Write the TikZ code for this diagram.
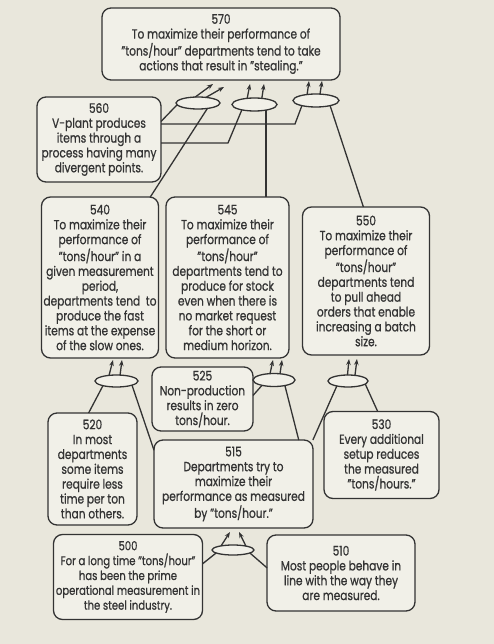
\documentclass[tikz,border=0pt]{standalone}
\usepackage{fontspec}
\setmainfont{Poppins}[FakeStretch=0.8,FakeBold=0.8]
\usetikzlibrary{arrows.meta,shapes.geometric}
\definecolor{bgc}{HTML}{E9E7DC}
\definecolor{boxc}{HTML}{F1F0E8}
\definecolor{inkc}{HTML}{333333}
\begin{document}
\begin{tikzpicture}[x=1bp,y=1bp,
  box/.style={draw=inkc,line width=1.3bp,rounded corners=9bp,fill=boxc,align=center,
    inner sep=0pt,outer sep=0pt,text=inkc,font=\fontsize{13.3}{14.9}\selectfont},
  ell/.style={draw=inkc,line width=1.3bp,ellipse,fill=boxc,inner sep=0pt,outer sep=0pt},
  con/.style={draw=inkc,line width=1.3bp},
  arr/.style={draw=inkc,line width=1.3bp,-{Stealth[length=6bp,width=4.5bp]}}]
\fill[bgc] (0,0) rectangle (494,-644);
\useasboundingbox (0,0) rectangle (494,-644);

% boxes
\node[box,minimum width=238bp,minimum height=72bp] (b570) at (221,-44)
  {570\\To maximize their performance of\\"tons/hour" departments tend to take\\actions that result in "stealing."};
\node[box,minimum width=124bp,minimum height=85bp] (b560) at (99,-139.5)
  {560\\V-plant produces\\items through a\\process having many\\divergent points.};
\node[box,minimum width=117bp,minimum height=161bp] (b540) at (100,-277.5)
  {540\\To maximize their\\performance of\\"tons/hour" in a\\given measurement\\period,\\departments tend\ \ to\\produce the fast\\items at the expense\\of the slow ones.};
\node[box,minimum width=123bp,minimum height=161bp] (b545) at (227.5,-277.5)
  {545\\To maximize their\\performance of\\"tons/hour"\\departments tend to\\produce for stock\\even when there is\\no market request\\for the short or\\medium horizon.};
\node[box,minimum width=127bp,minimum height=148bp] (b550) at (366,-281)
  {550\\To maximize their\\performance of\\"tons/hour"\\departments tend\\to pull ahead\\orders that enable\\increasing a batch\\size.};
\node[box,minimum width=101bp,minimum height=64bp] (b525) at (202.5,-399)
  {525\\Non-production\\results in zero\\tons/hour.};
\node[box,minimum width=89bp,minimum height=112bp] (b520) at (92.5,-469)
  {520\\In most\\departments\\some items\\require less\\time per ton\\than others.};
\node[box,minimum width=159bp,minimum height=88bp] (b515) at (233.5,-484)
  {515\\Departments try to\\maximize their\\performance as measured\\by "tons/hour."};
\node[box,minimum width=115bp,minimum height=87bp] (b530) at (381.5,-455)
  {530\\Every additional\\setup reduces\\the measured\\"tons/hours."};
\node[box,minimum width=149bp,minimum height=85bp,font=\fontsize{12.6}{14.9}\selectfont] (b500) at (128,-577)
  {500\\For a long time "tons/hour"\\has been the prime\\operational measurement in\\the steel industry.};
\node[box,minimum width=148bp,minimum height=76bp] (b510) at (341,-573)
  {510\\Most people behave in\\line with the way they\\are measured.};

% ellipses
\node[ell,minimum width=44bp,minimum height=12bp] (e1) at (198,-103) {};
\node[ell,minimum width=45bp,minimum height=13bp] (e2) at (254.5,-104.5) {};
\node[ell,minimum width=46bp,minimum height=13bp] (e3) at (316,-100.5) {};
\node[ell,minimum width=43bp,minimum height=12bp] (e540) at (116.5,-381) {};
\node[ell,minimum width=42bp,minimum height=13bp] (e545) at (274,-380) {};
\node[ell,minimum width=40bp,minimum height=12bp] (e550) at (348,-381) {};
\node[ell,minimum width=42bp,minimum height=10bp] (eb) at (233,-550) {};

% arrow tips
\coordinate (t1a) at (213,-84);
\coordinate (t1b) at (224,-87);
\coordinate (t2a) at (250,-84);
\coordinate (t2b) at (264,-84);
\coordinate (t3a) at (309,-81);
\coordinate (t3b) at (322,-81);
\coordinate (t4a) at (113,-360);
\coordinate (t4b) at (122,-360);
\coordinate (t5a) at (273,-360);
\coordinate (t5b) at (282,-360);
\coordinate (t6a) at (349,-359);
\coordinate (t6b) at (357,-359);
\coordinate (t7a) at (230,-532);
\coordinate (t7b) at (239,-532);
% bends
\coordinate (k1) at (295,-124);
\coordinate (k2) at (228,-143);

% arrows
\draw[arr] (e1.115) -- (t1a);
\draw[arr] (e1.35) -- (t1b);
\draw[arr] (e2.140) -- (t2a);
\draw[arr] (e2.40) -- (t2b);
\draw[arr] (e3.146) -- (t3a);
\draw[arr] (e3.58) -- (t3b);
\draw[arr] (e540.143) -- (t4a);
\draw[arr] (e540.59) -- (t4b);
\draw[arr] (e545.122) -- (t5a);
\draw[arr] (e545.46) -- (t5b);
\draw[arr] (e550.95) -- (t6a);
\draw[arr] (e550.39) -- (t6b);
\draw[arr] (eb.161) -- (t7a);
\draw[arr] (eb.17) -- (t7b);

% connectors
\draw[con] ([yshift=-24.5bp]b560.north east) -- (e1.185);
\draw[con] ([yshift=15.5bp]b560.east) -- (k1) -- (e3.200);
\draw[con] ([yshift=-3.5bp]b560.east) -- (k2) -- (e2.203);
\draw[con] (e1.-30) -- (b540.58);
\draw[con] (e2.-26) -- (e2.-26 |- b545.north);
\draw[con] (e3.-20) -- (b550.92);
\draw[con] (e540.199) -- (b520.94);
\draw[con] (e540.-15) -- (b515.157);
\draw[con] (b525.4.5) -- (e545.204);
\draw[con] (e545.-27) -- (b515.34.3);
\draw[con] (e550.204.5) -- (b515.29);
\draw[con] (e550.-10.5) -- (b530.95);
\draw[con] (b500.10) -- (eb.190);
\draw[con] (b510.176) -- (eb.-10);
\end{tikzpicture}
\end{document}
